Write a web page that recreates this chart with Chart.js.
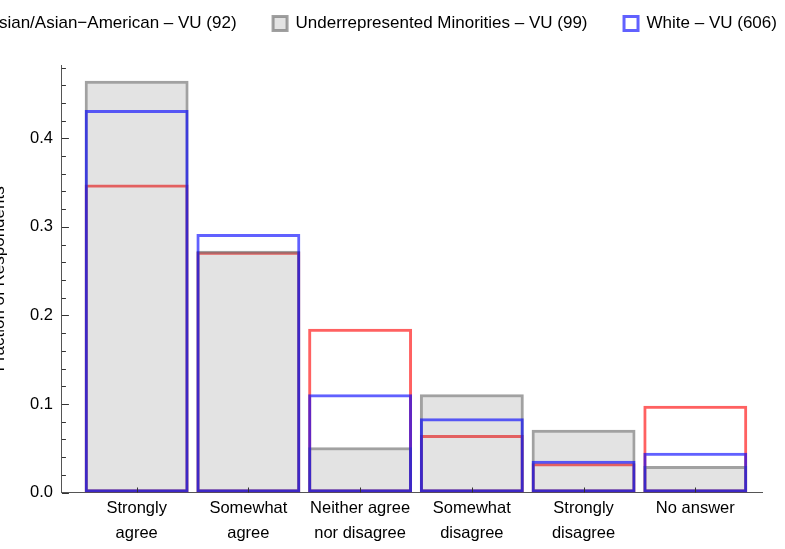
<!DOCTYPE html>
<html>
<head>
<meta charset="utf-8">
<script src="https://cdn.jsdelivr.net/npm/chart.js@4.4.1/dist/chart.umd.min.js"></script>
<style>
  html, body { margin: 0; padding: 0; background: #fff; overflow: hidden; }
  #wrap { position: absolute; left: -89px; top: 0; width: 920px; height: 549px; }
</style>
</head>
<body>
<div id="wrap"><canvas id="bars" width="920" height="549"></canvas></div>
<script>
const categories = [
    ['Strongly', 'agree'],
    ['Somewhat', 'agree'],
    ['Neither agree', 'nor disagree'],
    ['Somewhat', 'disagree'],
    ['Strongly', 'disagree'],
    ['No answer']
];

const seriesNames = [
    'Asian/Asian\u2212American \u2013 VU (92)',
    'Underrepresented Minorities \u2013 VU (99)',
    'White \u2013 VU (606)'
];

// fraction of respondents per answer
const asianValues = [0.348, 0.272, 0.185, 0.065, 0.033, 0.098];
const urmValues = [0.465, 0.273, 0.051, 0.111, 0.071, 0.030];
const whiteValues = [0.432, 0.292, 0.111, 0.084, 0.036, 0.045];

const yTickValues = [0, 0.02, 0.04, 0.06, 0.08, 0.1, 0.12, 0.14, 0.16, 0.18, 0.2,
    0.22, 0.24, 0.26, 0.28, 0.3, 0.32, 0.34, 0.36, 0.38, 0.4, 0.42, 0.44, 0.46, 0.48];

const FONT = "'Liberation Sans', Arial, sans-serif";

function points(values) {
    return values.map((v, i) => ({ x: i + 1, y: v }));
}

// small inward tick marks, like the original plot
const innerTicks = {
    id: 'innerTicks',
    afterDatasetsDraw(chart) {
        const { ctx } = chart;
        const x = chart.scales.x;
        const y = chart.scales.y;
        ctx.save();
        ctx.strokeStyle = '#333333';
        ctx.lineWidth = 1;
        y.ticks.forEach(t => {
            const py = Math.round(y.getPixelForValue(t.value)) + 0.5;
            const len = t.label ? 7 : 4;
            ctx.beginPath();
            ctx.moveTo(x.left, py);
            ctx.lineTo(x.left + len, py);
            ctx.stroke();
        });
        x.ticks.forEach(t => {
            const px = Math.round(x.getPixelForValue(t.value)) + 0.5;
            ctx.beginPath();
            ctx.moveTo(px, y.bottom);
            ctx.lineTo(px, y.bottom - 5);
            ctx.stroke();
        });
        ctx.restore();
    }
};

const ctx = document.getElementById('bars');

// red drawn first, translucent gray over it, blue on top
new Chart(ctx, {
    type: 'bar',
    data: {
        datasets: [{
            label: seriesNames[0],
            data: points(asianValues),
            backgroundColor: 'rgba(0,0,0,0)',
            borderColor: 'rgba(255, 0, 0, 0.62)',
            borderWidth: 3,
            borderSkipped: false,
            order: 3
        }, {
            label: seriesNames[1],
            data: points(urmValues),
            backgroundColor: 'rgba(90, 90, 90, 0.17)',
            borderColor: 'rgba(110, 110, 110, 0.65)',
            borderWidth: 3,
            borderSkipped: false,
            order: 2
        }, {
            label: seriesNames[2],
            data: points(whiteValues),
            backgroundColor: 'rgba(0,0,0,0)',
            borderColor: 'rgba(0, 0, 255, 0.62)',
            borderWidth: 3,
            borderSkipped: false,
            order: 1
        }]
    },
    options: {
        responsive: false,
        animation: false,
        layout: { padding: { top: -21.5, bottom: 0 } },
        datasets: {
            bar: { grouped: false, barPercentage: 0.93, categoryPercentage: 1 }
        },
        plugins: {
            tooltip: { enabled: false },
            legend: {
                position: 'top',
                labels: {
                    boxWidth: 14,
                    boxHeight: 14,
                    padding: 36.5,
                    color: '#000000',
                    font: { family: FONT, size: 17 },
                    sort: (a, b) => a.datasetIndex - b.datasetIndex
                }
            }
        },
        scales: {
            x: {
                type: 'linear',
                offset: false,
                min: 0.3314,
                max: 6.597,
                grid: { display: false, drawTicks: false },
                border: { display: true, color: '#555555', width: 1 },
                afterBuildTicks: scale => {
                    scale.ticks = categories.map((c, i) => ({ value: i + 1 }));
                },
                ticks: {
                    autoSkip: false,
                    maxRotation: 0,
                    padding: 3.5,
                    color: '#000000',
                    font: { family: FONT, size: 16.5, lineHeight: 1.5 },
                    callback: v => categories[Math.round(v) - 1]
                }
            },
            topGap: {
                type: 'linear',
                position: 'top',
                display: true,
                grid: { display: false, drawTicks: false },
                border: { display: false },
                ticks: { display: false },
                afterFit: scale => { scale.height = 23.3; }
            },
            y: {
                min: 0,
                max: 0.4825,
                grid: { display: false, drawTicks: false },
                border: { display: true, color: '#555555', width: 1 },
                afterBuildTicks: scale => {
                    scale.ticks = yTickValues.map(v => ({ value: v }));
                },
                ticks: {
                    autoSkip: false,
                    padding: 9,
                    color: '#000000',
                    font: { family: FONT, size: 16.5 },
                    callback: v => (Math.round(v * 100) % 10 === 0 ? v.toFixed(1) : '')
                },
                title: {
                    display: true,
                    text: 'Fraction of Respondents',
                    color: '#000000',
                    font: { family: FONT, size: 17 },
                    padding: { top: 78.6, bottom: 11 }
                }
            },
            spacer: {
                type: 'linear',
                position: 'right',
                display: true,
                grid: { display: false, drawTicks: false },
                border: { display: false },
                ticks: { display: false },
                afterFit: scale => { scale.width = 69; }
            }
        }
    },
    plugins: [innerTicks]
});
</script>
</body>
</html>
